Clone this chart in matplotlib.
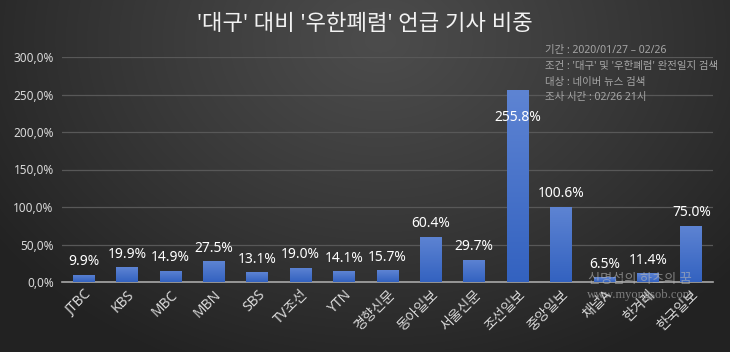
import numpy as np
import matplotlib
matplotlib.use("Agg")
import matplotlib.pyplot as plt
from matplotlib.ticker import FuncFormatter

plt.rcParams['font.family'] = ['Noto Sans', 'Noto Sans CJK KR', 'DejaVu Sans']

categories = ['JTBC', 'KBS', 'MBC', 'MBN', 'SBS', 'TV조선', 'YTN', '경향신문', '동아일보',
              '서울신문', '조선일보', '중앙일보', '채널A', '한겨레', '한국일보']
values = [9.9, 19.9, 14.9, 27.5, 13.1, 19.0, 14.1, 15.7, 60.4, 29.7, 255.8, 100.6, 6.5, 11.4, 75.0]
title = "'대구' 대비 '우한폐렴' 언급 기사 비중"
notes = ["기간 : 2020/01/27 – 02/26",
         "조건 : '대구' 및 '우한폐렴' 완전일지 검색",
         "대상 : 네이버 뉴스 검색",
         "조사 시간 : 02/26 21시"]
yticks = [0, 50, 100, 150, 200, 250, 300]

W, H = 730, 352
fig = plt.figure(figsize=(W / 100, H / 100), dpi=100)

# background radial gradient
bg = fig.add_axes([0, 0, 1, 1], zorder=-10)
yy, xx = np.mgrid[0:H, 0:W]
d = np.sqrt(((xx - 380) / 470.0) ** 2 + ((yy - 40) / 360.0) ** 2)
d = np.clip(d, 0, 1)
lum = (0x4c - (0x4c - 0x22) * d ** 1.1) / 255.0
img = np.dstack([lum, lum, lum])
bg.imshow(img, aspect='auto', extent=[0, 1, 0, 1], origin='upper')
bg.axis('off')

ax = fig.add_axes([62 / W, 1 - 282 / H, (713 - 62) / W, (282 - 57) / H])
ax.set_facecolor('none')
x = np.arange(len(categories))
bars = ax.bar(x, values, width=0.5, color='#4a74c9', zorder=3)

# gradient fill for bars
grad = np.linspace(0, 1, 256).reshape(-1, 1)
top_c = np.array([0x5e, 0x84, 0xd3]) / 255.0
bot_c = np.array([0x33, 0x62, 0xc0]) / 255.0
gimg = top_c[None, None, :] * (1 - grad[:, :, None]) + bot_c[None, None, :] * grad[:, :, None]
for b in bars:
    bx, bw, bh = b.get_x(), b.get_width(), b.get_height()
    im = ax.imshow(gimg, extent=[bx, bx + bw, 0, bh], aspect='auto', origin='upper', zorder=4)
    im.set_clip_path(b)
    b.set_alpha(0)

ax.set_xlim(-0.5, len(categories) - 0.5)
ax.set_ylim(0, 300)
ax.set_yticks(yticks)
ax.yaxis.set_major_formatter(FuncFormatter(lambda v, p: f"{v:.1f}%".replace('.', ',')))
ax.grid(axis='y', color='#585858', linewidth=0.9, zorder=0)
ax.set_axisbelow(True)
for s in ['top', 'right', 'left']:
    ax.spines[s].set_visible(False)
ax.spines['bottom'].set_color('#a8a8a8')
ax.spines['bottom'].set_linewidth(1.2)
ax.tick_params(axis='y', length=0, colors='#d9d9d9', labelsize=8.5, pad=6)
ax.tick_params(axis='x', length=0, colors='#d9d9d9', labelsize=10, pad=4)
ax.set_xticks(x)
ax.set_xticklabels(categories, rotation=45, ha='right', va='top', rotation_mode='anchor')

for xi, v in zip(x, values):
    if v > 200:
        ax.annotate(f"{v:.1f}%", (xi, v), xytext=(0, -19.5), textcoords='offset points',
                    ha='center', va='center', color='white', fontsize=10, zorder=6)
    else:
        ax.annotate(f"{v:.1f}%", (xi, v), xytext=(0, 4), textcoords='offset points',
                    ha='center', va='bottom', color='white', fontsize=10, zorder=6)

fig.text(365 / W, 1 - 25 / H, title, ha='center', va='center', color='#f2f2f2', fontsize=16)
for i, line in enumerate(notes):
    fig.text(545 / W, 1 - (50 + 16 * i) / H, line, ha='left', va='center',
             color='#a6a6a6', fontsize=7.5)

fig.text(640 / W, 1 - 279 / H, '신명섭의 하츠의 꿈', ha='center', va='center',
         color='#b8b8b8', alpha=0.6, fontsize=9.5, zorder=10)
fig.text(640 / W, 1 - 295 / H, 'www.myongsob.com', ha='center', va='center',
         color='#b8b8b8', alpha=0.6, fontsize=9, family=['Liberation Serif', 'DejaVu Serif'], zorder=10)

fig.savefig('out.png', dpi=100)
